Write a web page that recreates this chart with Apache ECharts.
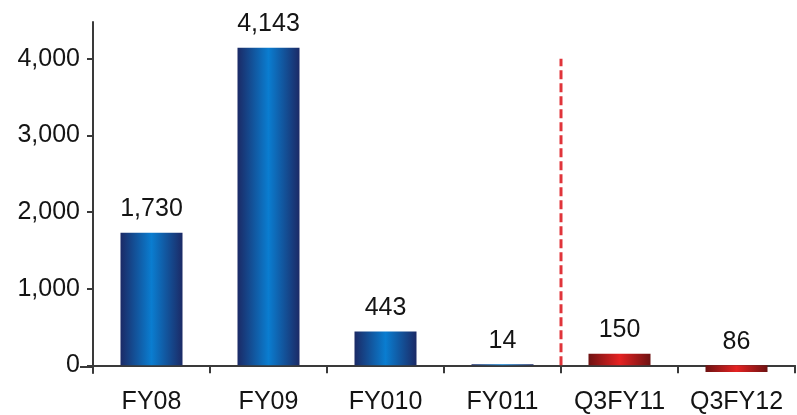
<!DOCTYPE html>
<html>
<head>
<meta charset="utf-8">
<script src="https://cdn.jsdelivr.net/npm/echarts@6/dist/echarts.min.js"></script>
<style type="text/css">
  html, body { margin: 0; padding: 0; background: #fff; }
  #chart { width: 797px; height: 415px; }
</style>
</head>
<body>
<div id="chart"></div>
<script>
  // categories and values
  var categories = ['FY08', 'FY09', 'FY010', 'FY011', 'Q3FY11', 'Q3FY12'];
  var values = [1730, 4143, 443, 14, 150, -86];
  var valueLabels = ['1,730', '4,143', '443', '14', '150', '86'];
  var yTicks = [0, 1000, 2000, 3000, 4000];
  // dashed divider sits on the boundary before Q3FY11
  var dividerAt = 4;
  var dividerTop = 4000;

  var textFont = 'Liberation Sans';
  var textColor = '#141414';
  var axisColor = '#3a3a3a';

  function blueBar() {
    return new echarts.graphic.LinearGradient(0, 0, 1, 0, [
      { offset: 0, color: '#1b2a66' },
      { offset: 0.5, color: '#0a7dd0' },
      { offset: 1, color: '#1b2a66' }
    ]);
  }
  function redBar() {
    return new echarts.graphic.LinearGradient(0, 0, 1, 0, [
      { offset: 0, color: '#6e1212' },
      { offset: 0.5, color: '#e52222' },
      { offset: 1, color: '#6e1212' }
    ]);
  }

  var barData = values.map(function (v, i) {
    return {
      value: v,
      itemStyle: { color: i >= dividerAt ? redBar() : blueBar() }
    };
  });

  var chart = echarts.init(document.getElementById('chart'));
  chart.setOption({
    animation: false,
    grid: { left: 93, right: 2, top: 22, bottom: 40, containLabel: false },
    xAxis: [
      {
        type: 'category',
        data: categories,
        axisLine: { onZero: true, lineStyle: { color: axisColor, width: 2 } },
        axisTick: { show: true, length: 8, lineStyle: { color: axisColor, width: 2 } },
        axisLabel: { interval: 0, color: textColor, fontFamily: textFont, fontSize: 25, margin: 17 }
      },
      {
        type: 'value',
        min: 0,
        max: categories.length,
        show: false
      }
    ],
    yAxis: {
      type: 'value',
      min: -100,
      max: 4480,
      splitLine: { show: false },
      axisLine: { show: true, lineStyle: { color: axisColor, width: 2 } },
      axisTick: { show: true, length: 6, customValues: yTicks, lineStyle: { color: axisColor, width: 2 } },
      axisLabel: {
        color: textColor, fontFamily: textFont, fontSize: 25, margin: 13,
        customValues: yTicks,
        formatter: function (v) { return v.toLocaleString('en-US'); }
      }
    },
    series: [
      {
        type: 'bar',
        data: barData,
        barWidth: 62,
        label: {
          show: true,
          position: 'top',
          distance: 11,
          color: textColor,
          fontFamily: textFont,
          fontSize: 25,
          formatter: function (p) { return valueLabels[p.dataIndex]; }
        }
      },
      {
        type: 'line',
        xAxisIndex: 1,
        data: [[dividerAt, 0], [dividerAt, dividerTop]],
        symbol: 'none',
        lineStyle: { color: '#e0343a', width: 3, type: [9, 4] },
        z: 1
      }
    ],
    graphic: [
      {
        type: 'line',
        shape: { x1: 80, y1: 367, x2: 93, y2: 367 },
        style: { stroke: axisColor, lineWidth: 2 }
      }
    ]
  });
</script>
</body>
</html>
